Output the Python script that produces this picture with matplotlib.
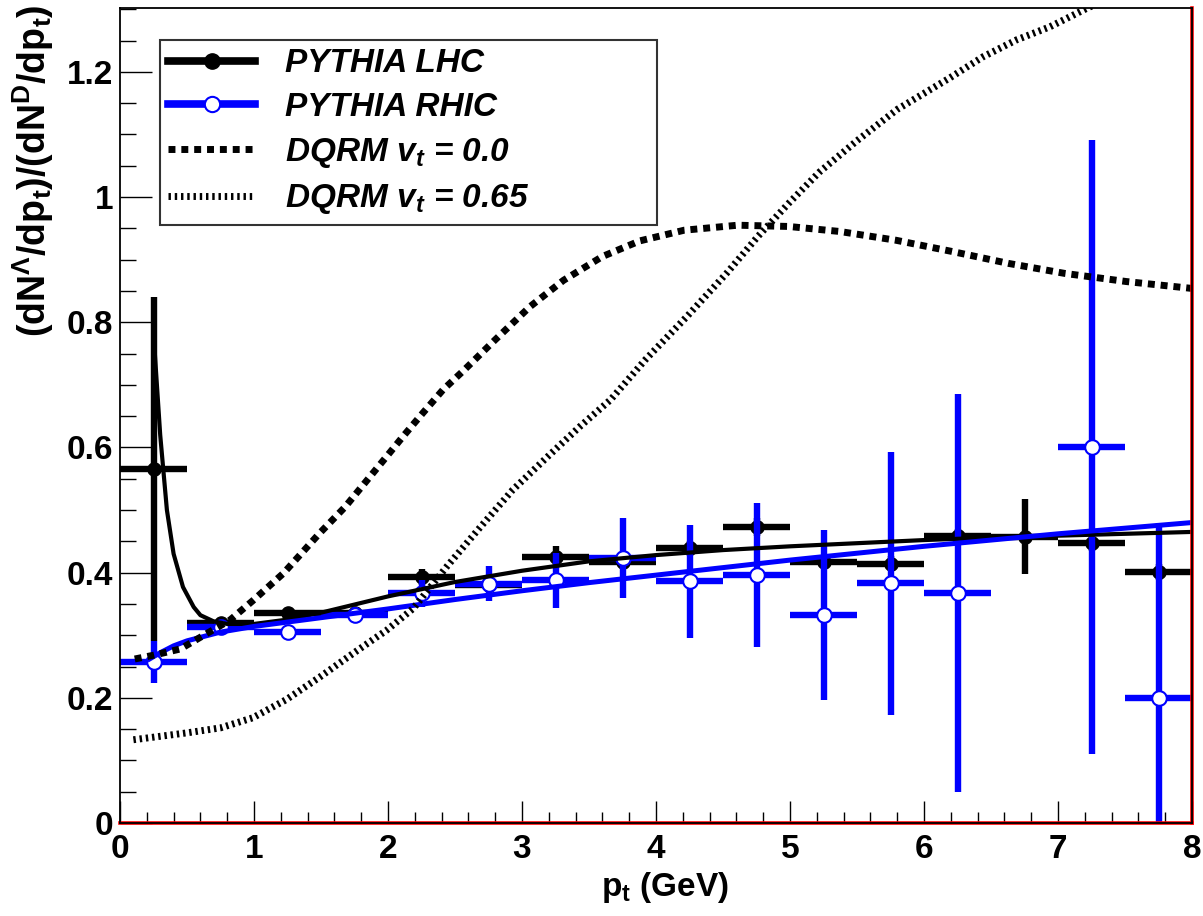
import numpy as np
import matplotlib
matplotlib.use("Agg")
import matplotlib.pyplot as plt
from matplotlib.lines import Line2D
from matplotlib.ticker import MultipleLocator

plt.rcParams['font.family'] = ['Liberation Sans', 'DejaVu Sans']
plt.rcParams['mathtext.fontset'] = 'custom'
plt.rcParams['mathtext.rm'] = 'Liberation Sans:bold'
plt.rcParams['mathtext.it'] = 'Liberation Sans:bold:italic'
plt.rcParams['mathtext.bf'] = 'Liberation Sans:bold'

# ---- data ----
bin_centers = [0.25, 0.75, 1.25, 1.75, 2.25, 2.75, 3.25, 3.75,
               4.25, 4.75, 5.25, 5.75, 6.25, 6.75, 7.25, 7.75]
bin_halfwidth = [0.25] * 16

lhc_y = [0.565, 0.319, 0.335, 0.335, 0.393, 0.381, 0.425, 0.417,
         0.439, 0.473, 0.417, 0.414, 0.458, 0.457, 0.447, 0.401]
lhc_err = [0.275, 0.005, 0.006, 0.007, 0.012, 0.012, 0.018, 0.012,
           0.012, 0.015, 0.010, 0.012, 0.012, 0.060, 0.012, 0.012]

rhic_y = [0.257, 0.313, 0.305, 0.333, 0.367, 0.382, 0.388, 0.423,
          0.386, 0.396, 0.332, 0.383, 0.367, np.nan, 0.601, 0.200]
rhic_err = [0.033, 0.008, 0.008, 0.012, 0.022, 0.028, 0.044, 0.064,
            0.090, 0.115, 0.136, 0.210, 0.318, np.nan, 0.490, 0.280]

lhc_fit_x = [0.26, 0.30, 0.35, 0.40, 0.47, 0.55, 0.60, 0.70, 0.80, 1.0, 1.25,
             1.5, 2.0, 2.5, 3.0, 3.5, 4.0, 4.5, 5.0, 5.5, 6.0, 6.5, 7.0, 7.5, 8.0]
lhc_fit_y = [0.75, 0.62, 0.50, 0.43, 0.377, 0.345, 0.332, 0.322, 0.318, 0.318, 0.325,
             0.336, 0.362, 0.385, 0.403, 0.418, 0.428, 0.436, 0.442, 0.447, 0.452,
             0.456, 0.459, 0.462, 0.465]

rhic_fit_x = [0.22, 0.3, 0.4, 0.5, 0.75, 1.0, 1.5, 2.0, 2.5, 3.0, 3.5, 4.0,
              4.5, 5.0, 5.5, 6.0, 6.5, 7.0, 7.5, 8.0]
rhic_fit_y = [0.262, 0.272, 0.283, 0.291, 0.305, 0.314, 0.328, 0.342, 0.357, 0.371,
              0.384, 0.396, 0.408, 0.420, 0.431, 0.442, 0.452, 0.462, 0.471, 0.480]

dq0_x = [0.11, 0.25, 0.45, 0.65, 0.82, 0.99, 1.22, 1.49, 1.68, 1.98, 2.11, 2.26,
         2.41, 2.57, 2.80, 3.06, 3.31, 3.60, 3.88, 4.21, 4.61, 4.99, 5.37, 5.79,
         6.21, 6.63, 7.05, 7.51, 8.0]
dq0_y = [0.262, 0.268, 0.278, 0.303, 0.324, 0.355, 0.399, 0.463, 0.505, 0.583,
         0.617, 0.655, 0.692, 0.724, 0.772, 0.825, 0.867, 0.905, 0.930, 0.947,
         0.955, 0.953, 0.945, 0.931, 0.913, 0.894, 0.878, 0.865, 0.854]

dq65_x = [0.10, 0.5, 0.75, 0.99, 1.24, 1.49, 1.74, 1.99, 2.19, 2.44, 2.69, 2.93,
          3.19, 3.43, 3.66, 3.92, 4.23, 4.53, 4.76, 4.99, 5.22, 5.5, 5.8, 6.19,
          6.44, 6.69, 6.94, 7.22, 7.35]
dq65_y = [0.133, 0.144, 0.152, 0.168, 0.197, 0.233, 0.271, 0.308, 0.343, 0.41,
          0.473, 0.532, 0.585, 0.633, 0.676, 0.740, 0.809, 0.879, 0.937, 0.990,
          1.040, 1.090, 1.140, 1.190, 1.224, 1.251, 1.272, 1.302, 1.315]

legend_labels = ["PYTHIA LHC", "PYTHIA RHIC",
                 r"DQRM v$_{\mathit{t}}$ = 0.0", r"DQRM v$_{\mathit{t}}$ = 0.65"]

# ---- figure ----
W, H = 1203, 916
fig = plt.figure(figsize=(W / 100, H / 100), dpi=100)
ax = fig.add_axes([120 / W, 1 - 823 / H, (1192 - 120) / W, (823 - 8) / H])

ax.errorbar(bin_centers, lhc_y, xerr=bin_halfwidth, yerr=lhc_err, fmt='o',
            color='black', ecolor='black', elinewidth=4.6, capsize=0,
            ms=9.5, zorder=3)
ax.errorbar(bin_centers, rhic_y, xerr=bin_halfwidth, yerr=rhic_err, fmt='o',
            color='blue', ecolor='blue', elinewidth=4.6, capsize=0,
            ms=10.5, mfc='white', mec='blue', mew=1.5, zorder=4)

ax.plot(lhc_fit_x, lhc_fit_y, color='black', lw=3.0, zorder=5)
ax.plot(rhic_fit_x, rhic_fit_y, color='blue', lw=3.6, zorder=6)

ax.plot(dq0_x, dq0_y, color='black', lw=5, ls=(0, (1.0, 0.85)),
        dash_capstyle='butt', zorder=7)
ax.plot(dq65_x, dq65_y, color='black', lw=5, ls=(0, (0.35, 0.55)),
        dash_capstyle='butt', zorder=7)

ax.set_xlim(0, 8)
ax.set_ylim(0, 1.302)

ax.xaxis.set_major_locator(MultipleLocator(1))
ax.xaxis.set_minor_locator(MultipleLocator(0.2))
ax.yaxis.set_major_locator(MultipleLocator(0.2))
ax.yaxis.set_minor_locator(MultipleLocator(0.05))

ax.tick_params(axis='x', which='major', direction='in', length=16, width=1.0,
               labelsize=24, pad=8, top=False)
ax.tick_params(axis='x', which='minor', direction='in', length=8, width=1.0, top=False)
ax.tick_params(axis='y', which='major', direction='in', length=23, width=1.0,
               labelsize=24, pad=5, right=False)
ax.tick_params(axis='y', which='minor', direction='in', length=11.5, width=1.0, right=False)
for lab in ax.get_xticklabels() + ax.get_yticklabels():
    lab.set_fontweight('bold')

def fmt(v, pos):
    s = ('%.1f' % v)
    if abs(v - round(v)) < 1e-9:
        s = '%d' % round(v)
    return s
ax.xaxis.set_major_formatter(plt.FuncFormatter(fmt))
ax.yaxis.set_major_formatter(plt.FuncFormatter(fmt))

for sp in ax.spines.values():
    sp.set_color('black')
    sp.set_linewidth(1.3)
    sp.set_zorder(10)

# red frame lines at bottom and right
ax.axhline(0, color='red', lw=2.6, clip_on=False, zorder=9)
ax.axvline(8, color='red', lw=2.6, clip_on=False, zorder=9)

fig.text(665 / W, 1 - 896 / H, r"p$_{\mathrm{t}}$ (GeV)", ha='center', va='baseline',
         fontsize=24, fontweight='bold')
fig.text(33 / W, 1 - 4 / H,
         r"(dN$^{\Lambda}$/dp$_{\mathrm{t}}$)/(dN$^{\mathrm{D}}$/dp$_{\mathrm{t}}$)",
         rotation=90, ha='center', va='top', fontsize=27, fontweight='bold')

handles = [
    Line2D([], [], color='black', lw=5.5, marker='o', ms=11),
    Line2D([], [], color='blue', lw=5.5, marker='o', ms=11, mfc='white', mec='blue', mew=1.5),
    Line2D([], [], color='black', lw=5, ls=(0, (1.0, 0.85)), dash_capstyle='butt'),
    Line2D([], [], color='black', lw=5, ls=(0, (0.35, 0.55)), dash_capstyle='butt'),
]
leg_x0, leg_y1 = 160 / W, 1 - 40 / H
leg_w, leg_h = (657 - 160) / W, (222 - 40) / H
leg = ax.legend(handles, legend_labels, loc='upper left', mode='expand',
                bbox_to_anchor=(leg_x0, leg_y1 - leg_h, leg_w, leg_h),
                bbox_transform=fig.transFigure,
                borderaxespad=0, frameon=True, fancybox=False, shadow=False,
                handlelength=2.6, handletextpad=0.9, labelspacing=0.38,
                borderpad=0.25, prop=dict(family='Liberation Sans', weight='bold',
                                          style='italic', size=24))
leg.get_frame().set_edgecolor('black')
leg.get_frame().set_linewidth(1.5)
leg.set_zorder(20)

fig.savefig("out.png", dpi=100)
